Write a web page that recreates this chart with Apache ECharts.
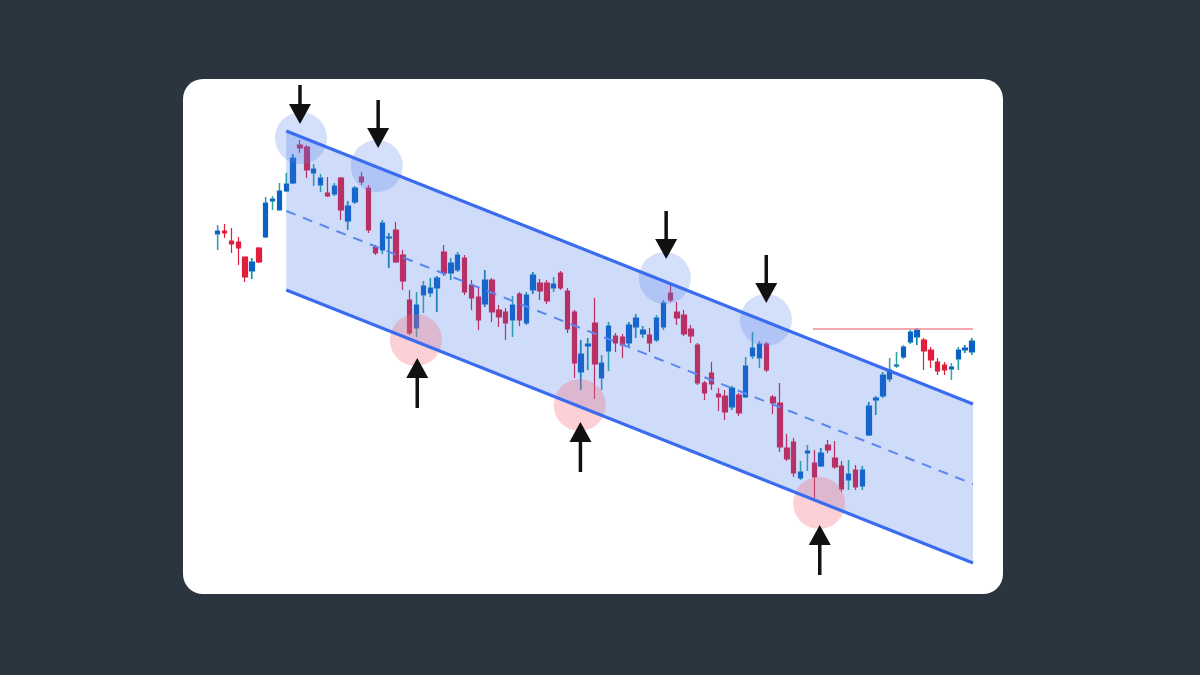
<!DOCTYPE html>
<html>
<head>
<meta charset="utf-8">
<script src="https://cdn.jsdelivr.net/npm/echarts@6/dist/echarts.min.js"></script>
<style>
  html, body { margin: 0; padding: 0; background: #2a3540; width: 1200px; height: 675px; overflow: hidden; }
  #card { position: absolute; left: 183px; top: 79px; width: 820px; height: 515px; background: #ffffff; border-radius: 20px; }
  #chart { position: absolute; left: 0; top: 0; width: 1200px; height: 675px; }
</style>
</head>
<body>
<div id="card"></div>
<div id="chart"></div>
<script>
// Candles: [open, close, low, high]
const ohlc = [
  [366,369,350,375],[369,367,362,376],[359,356,347,372],[358,352,335,363],[343,323,318,343],
  [329,338,321,342],[352,338,337,353],[363,397,362,403],[399,401,390,404],[390,409,390,417],
  [409,416,408,427],[417,442,416,446],[455,452,447,460],[453,430,422,455],[427,431,414,436],
  [415,422,408,426],[407,404,403,423],[406,414,404,417],[422,390,380,423],[379,394,370,399],
  [398,412,396,414],[423,418,415,428],[412,370,367,415],[353,347,345,355],[350,377,346,380],
  [362,363,332,367],[370,338,337,378],[345,319,310,350],[300,267,265,310],[272,295,263,308],
  [305,314,287,319],[307,312,303,322],[312,322,288,324],[348,327,324,355],[327,337,320,342],
  [330,345,328,348],[342,308,305,345],[315,302,290,320],[303,280,270,312],[296,320,293,330],
  [320,288,278,322],[290,283,273,295],[288,277,260,292],[280,295,263,304],[306,280,274,308],
  [277,305,275,308],[310,325,306,328],[317,309,300,321],[317,299,296,320],[312,316,308,323],
  [327,312,310,329],[309,271,267,312],[288,237,222,290],[228,246,210,260],[254,256,230,262],
  [277,236,201,302],[222,237,210,245],[249,274,229,278],[264,257,248,267],[263,255,242,266],
  [257,275,253,278],[273,282,262,286],[266,270,262,274],[265,257,248,272],[260,282,258,285],
  [273,297,270,300],[307,300,298,315],[288,282,275,298],[285,266,264,290],[271,264,257,275],
  [255,217,215,257],[217,207,200,219],[227,216,210,238],[206,203,189,212],[204,188,180,210],
  [193,212,190,214],[205,187,184,207],[203,234,202,243],[244,252,241,268],[242,256,232,259],
  [256,230,228,258],[203,197,186,205],[197,153,148,217],[152,141,139,166],[158,127,123,162],
  [122,128,120,139],[147,149,129,155],[137,123,102,150],[134,147,133,152],[155,150,147,160],
  [142,133,131,159],[134,111,108,139],[120,126,110,140],[130,113,110,135],[114,130,110,134],
  [165,194,164,198],[200,202,185,204],[204,225,202,228],[221,230,218,242],[234,235,232,248],
  [243,253,241,255],[258,268,256,270],[263,270,255,272],[260,249,230,262],[250,240,232,253],
  [238,229,225,242],[235,230,225,238],[231,233,220,237],[241,250,230,253],[250,252,247,255],
  [248,259,245,262]
];

// Channel (x in candle index, y in price)
const channelX = [10, 110.15];
const upperLine = [469, 196];
const midLine = [389, 116];
const lowerLine = [310, 37];

// Resistance line
const resistX = [86.8, 110.15];
const resistY = [271, 271];

// Touch circles [index, price]
const topTouches = [[12.15, 462], [23.2, 434], [65.2, 322], [79.95, 280]];
const bottomTouches = [[28.9, 260], [52.8, 195], [87.7, 97]];

// Arrows [index, tailPrice, tipPrice]
const downArrows = [[12.0, 515, 476], [23.4, 500, 452], [65.4, 389, 341], [80.0, 345, 297]];
const upArrows = [[29.1, 192, 242], [52.9, 128, 178], [87.8, 25, 75]];

const candleData = ohlc.map((d, i) => [i, d[0], d[1], d[2], d[3]]);
const upWicks = ohlc.map((d, i) => [i, d[0], d[1], d[2], d[3]]).filter(d => d[2] >= d[1]);

function arrowRender(params, api) {
  const x = api.value(0);
  const tail = api.coord([x, api.value(1)]);
  const tip = api.coord([x, api.value(2)]);
  const dir = tip[1] > tail[1] ? 1 : -1;
  const headLen = 20, headHalf = 11;
  const base = tip[1] - dir * headLen;
  return {
    type: 'group',
    children: [
      { type: 'line', shape: { x1: tail[0], y1: tail[1], x2: tip[0], y2: base + dir * 2 },
        style: { stroke: '#111111', lineWidth: 3.5 } },
      { type: 'polygon', shape: { points: [[tip[0] - headHalf, base], [tip[0] + headHalf, base], [tip[0], tip[1]]] },
        style: { fill: '#111111' } }
    ]
  };
}

function wickRender(params, api) {
  const x = api.value(0);
  const o = api.value(1), c = api.value(2), l = api.value(3), h = api.value(4);
  const top = Math.max(o, c), bot = Math.min(o, c);
  const pH = api.coord([x, h]), pT = api.coord([x, top]);
  const pB = api.coord([x, bot]), pL = api.coord([x, l]);
  const st = { stroke: '#2aa89a', lineWidth: 1.3 };
  return {
    type: 'group',
    children: [
      { type: 'line', shape: { x1: pH[0], y1: pH[1], x2: pT[0], y2: pT[1] }, style: st },
      { type: 'line', shape: { x1: pB[0], y1: pB[1], x2: pL[0], y2: pL[1] }, style: st }
    ]
  };
}

const chart = echarts.init(document.getElementById('chart'));
chart.setOption({
  animation: false,
  backgroundColor: 'transparent',
  grid: { left: 214.27, right: 227, top: 79, bottom: 81 },
  xAxis: { type: 'value', min: -0.5, max: 110.15, show: false },
  yAxis: { type: 'value', min: 6, max: 521, show: false },
  series: [
    {
      type: 'candlestick',
      data: candleData,
      encode: { x: 0, y: [1, 2, 3, 4] },
      barWidth: 5,
      z: 2,
      itemStyle: {
        color: '#0b62c4', borderColor: '#0b62c4',
        color0: '#e11d3c', borderColor0: '#e11d3c',
        borderWidth: 1.2
      }
    },
    {
      type: 'custom',
      z: 2.5,
      silent: true,
      data: upWicks,
      encode: { x: 0, y: [1, 2, 3, 4] },
      renderItem: wickRender
    },
    {
      type: 'custom',
      z: 3,
      silent: true,
      data: [[0]],
      renderItem: function (params, api) {
        const p1 = api.coord([channelX[0], upperLine[0]]);
        const p2 = api.coord([channelX[1], upperLine[1]]);
        const p3 = api.coord([channelX[1], lowerLine[1]]);
        const p4 = api.coord([channelX[0], lowerLine[0]]);
        return { type: 'polygon', shape: { points: [p1, p2, p3, p4] },
          style: { fill: 'rgba(61,111,232,0.25)' } };
      }
    },
    {
      type: 'scatter',
      z: 4,
      data: topTouches,
      symbolSize: 52,
      itemStyle: { color: 'rgba(90,130,230,0.32)' }
    },
    {
      type: 'scatter',
      z: 4,
      data: bottomTouches,
      symbolSize: 52,
      itemStyle: { color: 'rgba(245,110,120,0.4)' }
    },
    {
      type: 'line', z: 5, symbol: 'none',
      data: channelX.map((x, i) => [x, upperLine[i]]),
      lineStyle: { color: '#3a6cf0', width: 3 }
    },
    {
      type: 'line', z: 5, symbol: 'none',
      data: channelX.map((x, i) => [x, lowerLine[i]]),
      lineStyle: { color: '#3a6cf0', width: 3 }
    },
    {
      type: 'line', z: 5, symbol: 'none',
      data: channelX.map((x, i) => [x, midLine[i]]),
      lineStyle: { color: '#5a86f0', width: 2, type: [10, 8] }
    },
    {
      type: 'line', z: 5, symbol: 'none',
      data: resistX.map((x, i) => [x, resistY[i]]),
      lineStyle: { color: '#f08a90', width: 1.5 }
    },
    {
      type: 'custom', z: 6, silent: true,
      data: downArrows.concat(upArrows),
      renderItem: arrowRender,
      clip: false
    }
  ]
});
</script>
</body>
</html>
